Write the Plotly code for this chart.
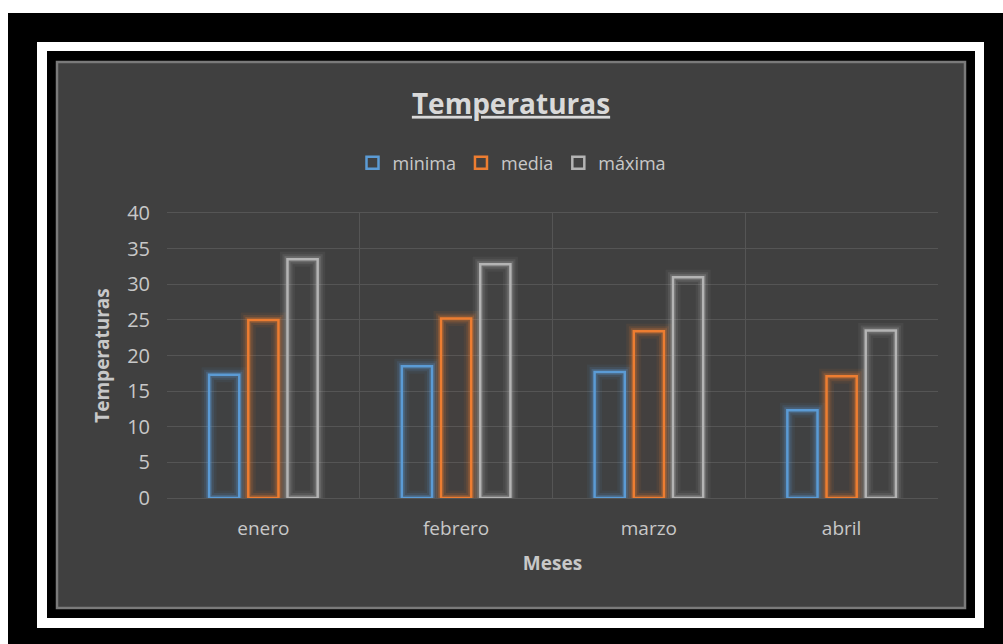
import plotly.graph_objects as go

# Monthly temperatures
meses = ["enero", "febrero", "marzo", "abril"]
minima = [17.3, 18.5, 17.7, 12.3]
media = [25.0, 25.2, 23.4, 17.1]
maxima = [33.5, 32.8, 31.0, 23.5]

series = [
    ("minima", minima, "#5B9BD5", (91, 155, 213)),
    ("media", media, "#ED7D31", (237, 125, 49)),
    ("máxima", maxima, "#B4B4B4", (180, 180, 180)),
]

W, H = 1003, 644
ML, MR, MT, MB = 167, W - 938, 213, H - 498
PW, PH = W - ML - MR, H - MT - MB


def px_x(px):
    return (px - ML) / PW


def px_y(py):
    return (H - MB - py) / PH


def rect(x0, y0, x1, y1, fill, line=None, lw=0):
    return dict(
        type="rect", xref="paper", yref="paper", layer="below",
        x0=px_x(x0), x1=px_x(x1), y0=px_y(y1), y1=px_y(y0),
        fillcolor=fill, line=dict(color=line or fill, width=lw),
    )


fig = go.Figure()

# soft glow around every bar outline
for i, (name, vals, col, rgb) in enumerate(series):
    for lw, a in [(15, 0.07), (10, 0.13), (6, 0.24)]:
        fig.add_trace(go.Bar(
            x=meses, y=vals, offsetgroup=str(i), showlegend=False,
            hoverinfo="skip",
            marker=dict(color="rgba(0,0,0,0)",
                        line=dict(color=f"rgba({rgb[0]},{rgb[1]},{rgb[2]},{a})", width=lw)),
        ))

for i, (name, vals, col, rgb) in enumerate(series):
    fig.add_trace(go.Bar(
        x=meses, y=vals, name=name, offsetgroup=str(i),
        marker=dict(color=f"rgba({rgb[0]},{rgb[1]},{rgb[2]},0.02)",
                    line=dict(color=col, width=2.5)),
    ))

shapes = [
    rect(8, 13, W + 5, H + 5, "#000000"),
    rect(37, 42, 984, 628, "#FFFFFF"),
    rect(47, 51, 975, 618, "#000000"),
    rect(57, 62, 965, 608, "#404040", "#7a7a7a", 2.5),
]

font = "Open Sans"
txt = "#C8C8C8"
fig.update_layout(
    width=W, height=H,
    margin=dict(l=ML, r=MR, t=MT, b=MB, autoexpand=False),
    paper_bgcolor="#FFFFFF",
    plot_bgcolor="rgba(0,0,0,0)",
    shapes=shapes,
    barmode="group",
    bargap=0.39,
    bargroupgap=0.23,
    font=dict(family=font, color=txt),
    title=dict(
        text="<b><u>Temperaturas</u></b>",
        x=px_x(511), xref="paper", xanchor="center",
        y=1 - 104 / H, yref="container", yanchor="middle",
        font=dict(family=font, size=28, color="#D9D9D9"),
    ),
    legend=dict(
        orientation="h", x=px_x(512), xanchor="center",
        y=px_y(163), yanchor="middle",
        font=dict(family=font, size=18, color=txt),
        bgcolor="rgba(0,0,0,0)", itemwidth=30, tracegroupgap=0,
    ),
    xaxis=dict(
        tickson="boundaries", showgrid=True, gridcolor="#555555", gridwidth=1,
        showline=True, mirror=True, linecolor="#555555", linewidth=1,
        ticks="", tickfont=dict(size=19, color=txt), ticklabelstandoff=13,
        title=dict(text="<b>Meses</b>", font=dict(size=19, color=txt), standoff=16),
        zeroline=False, automargin=False,
    ),
    yaxis=dict(
        range=[0, 40], dtick=5, showgrid=True, gridcolor="#555555", gridwidth=1,
        ticks="", tickfont=dict(size=20, color=txt), ticklabelstandoff=16,
        title=dict(text="<b>Temperaturas</b>", font=dict(size=19, color=txt), standoff=12),
        zeroline=False, showline=False, automargin=False,
    ),
)

fig.write_html("out.html")
